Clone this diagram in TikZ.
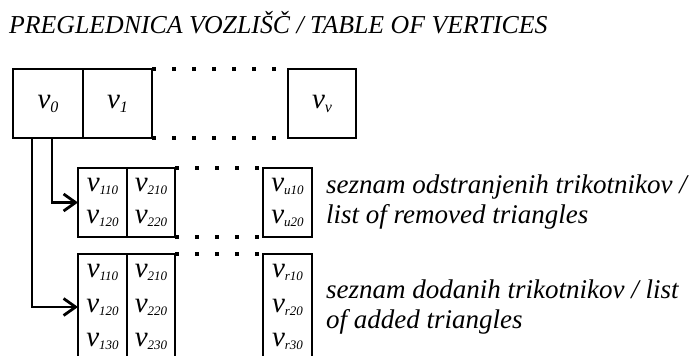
\documentclass[tikz,border=0pt]{standalone}
\usepackage{fontspec}
\setmainfont{Liberation Serif}[ItalicFont={Liberation Serif Italic}]
\usetikzlibrary{
    arrows.meta,
    positioning
}
% v with a small italic index
\newcommand{\vsub}[1]{v\raisebox{-3pt}{\fontsize{13}{13}\selectfont #1}}
\newcommand{\vhead}[1]{v\raisebox{-4pt}{\fontsize{16}{16}\selectfont #1}}

\begin{document}
\begin{tikzpicture}[x=1pt, y=-1pt,
    cell/.style={draw=black, line width=2.8pt, inner sep=0pt, outer sep=0pt, align=center,
        font=\fontsize{29}{32}\selectfont\itshape},
    dotrow/.style={line width=3.5pt, dash pattern=on 3.5pt off 16.5pt},
    link/.style={line width=2.8pt, -{Straight Barb[length=12pt, width=17pt]}},
    note/.style={inner sep=0pt, align=left, font=\fontsize{27}{30}\selectfont\itshape}
]
    \useasboundingbox (0,0) rectangle (697,356);

    \node[anchor=base west, inner sep=0pt, font=\fontsize{25.8}{26}\selectfont\itshape] (title) at (9,33)
        {PREGLEDNICA VOZLIŠČ / TABLE OF VERTICES};

    % table of vertices
    \node[cell, minimum width=70pt, minimum height=69pt] (c0) at (48,103.5) {\vhead{0}};
    \node[cell, minimum width=69pt, minimum height=69pt, right=0pt of c0] (c1) {\vhead{1}};
    \node[cell, minimum width=68pt, minimum height=69pt] (cv) at (322,103.5) {\vhead{v}};

    % removed triangles
    \node[cell, minimum width=49pt, minimum height=69pt] (r1) at (102.5,202.5) {\vsub{110}\\\vsub{120}};
    \node[cell, minimum width=48pt, minimum height=69pt, right=0pt of r1] (r2) {\vsub{210}\\\vsub{220}};
    \node[cell, minimum width=49pt, minimum height=69pt] (ru) at (287.5,202.5) {\vsub{u10}\\\vsub{u20}};

    % added triangles
    \node[cell, minimum width=49pt, minimum height=106pt, font=\fontsize{29}{34.5}\selectfont\itshape] (a1) at (102.5,307)
        {\vsub{110}\\\vsub{120}\\\vsub{130}};
    \node[cell, minimum width=48pt, minimum height=106pt, font=\fontsize{29}{34.5}\selectfont\itshape, right=0pt of a1] (a2)
        {\vsub{210}\\\vsub{220}\\\vsub{230}};
    \node[cell, minimum width=49pt, minimum height=106pt, font=\fontsize{29}{34.5}\selectfont\itshape] (ar) at (287.5,307)
        {\vsub{r10}\\\vsub{r20}\\\vsub{r30}};

    \node[note, right=14pt of ru] (lrem) {seznam odstranjenih trikotnikov /\\list of removed triangles};
    \node[note, right=14pt of ar] (ladd) {seznam dodanih trikotnikov / list\\of added triangles};

    \draw[dotrow]
    (c1.north east) -- (cv.north west)
    (c1.south east) -- (cv.south west)
    (r2.north east) -- (ru.north west)
    (r2.south east) -- (ru.south west)
    (a2.north east) -- (ar.north west);

    \draw[link] ([xshift=39pt]c0.south west) |- (r1.west);
    \draw[link] ([xshift=19pt]c0.south west) |- (a1.west);
\end{tikzpicture}
\end{document}
